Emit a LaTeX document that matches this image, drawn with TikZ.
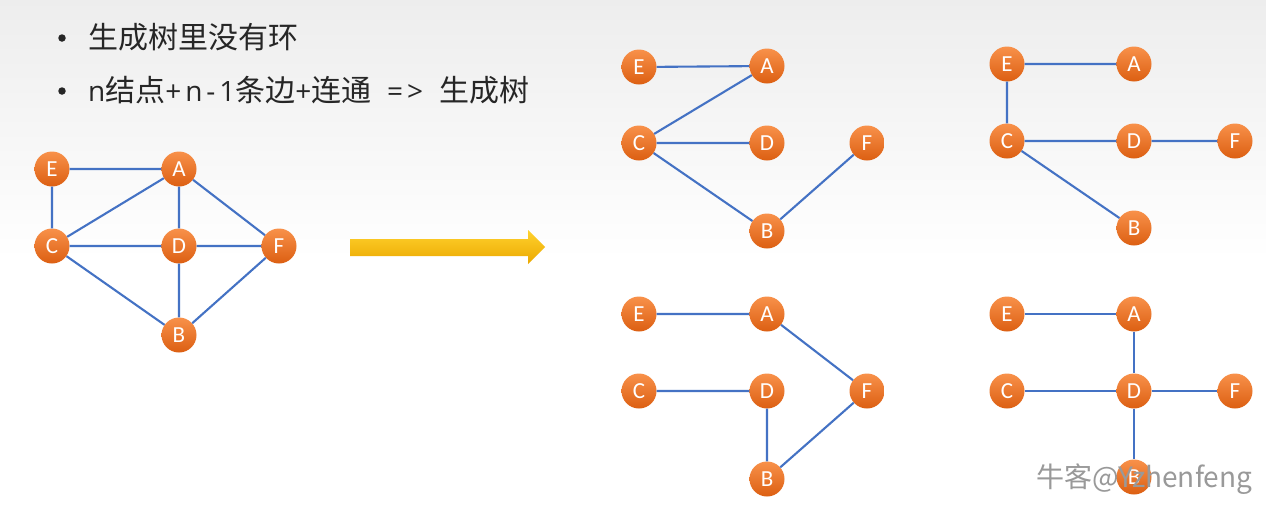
\documentclass[tikz,border=0pt]{standalone}
\usepackage{fontspec}
\setmainfont{Carlito}
\newfontfamily\cjk{Noto Sans CJK SC}
\newfontfamily\lat[LetterSpace=14]{Open Sans}
\newcommand{\lt}[1]{{\lat\fontsize{28}{28}\selectfont #1}}
\definecolor{edgeblue}{HTML}{4472C4}
\definecolor{orgtop}{HTML}{F8914A}
\definecolor{orgbot}{HTML}{DC5F12}
\definecolor{arrtop}{HTML}{FFD22E}
\definecolor{arrbot}{HTML}{EBA800}
\tikzset{
  vtx/.style={circle, minimum size=35pt, inner sep=0pt, top color=orgtop, bottom color=orgbot,
    text=white, font=\fontsize{23}{23}\selectfont},
  edg/.style={draw=edgeblue, line width=2.1pt},
  bul/.style={anchor=west, font=\cjk\fontsize{30}{30}\selectfont, text=black!85, inner sep=0pt},
  dot/.style={circle, fill=black!85, minimum size=7.5pt, inner sep=0pt}
}
\begin{document}
\begin{tikzpicture}[x=1pt,y=-1pt]
\useasboundingbox (0,0) rectangle (1266,509);
\shade[top color=black!7, bottom color=white] (0,0) rectangle (1266,260);
\fill[white] (0,260) rectangle (1266,509);
% text
\node[dot] (b1) at (62,38) {};
\node[bul] (t1) at (88,37) {生成树里没有环};
\node[dot] (b2) at (62,91) {};
\node[bul] (t2) at (88,90) {\lt{n}结点\lt{+n-1}条边\lt{+}连通\lt{\ \,=>\ \,}生成树};
% arrow
\shade[top color=arrtop, bottom color=arrbot] (350,239) -- (528,239) -- (528,230) -- (545,247) -- (528,264) -- (528,256) -- (350,256) -- cycle;
% graph 0
\node[vtx] (aE) at (52,169) {E};
\node[vtx] (aA) at (179,169) {A};
\node[vtx] (aC) at (52,246) {C};
\node[vtx] (aD) at (179,246) {D};
\node[vtx] (aF) at (279,246) {F};
\node[vtx] (aB) at (179,335) {B};
% graph 1
\node[vtx] (bE) at (639,67) {E};
\node[vtx] (bA) at (767,66) {A};
\node[vtx] (bC) at (639,143) {C};
\node[vtx] (bD) at (767,143) {D};
\node[vtx] (bF) at (867,143) {F};
\node[vtx] (bB) at (767,231) {B};
% graph 2
\node[vtx] (cE) at (1007,64) {E};
\node[vtx] (cA) at (1134,64) {A};
\node[vtx] (cC) at (1007,141) {C};
\node[vtx] (cD) at (1134,141) {D};
\node[vtx] (cF) at (1235,141) {F};
\node[vtx] (cB) at (1134,228) {B};
% graph 3
\node[vtx] (dE) at (639,314) {E};
\node[vtx] (dA) at (767,314) {A};
\node[vtx] (dC) at (639,391) {C};
\node[vtx] (dD) at (767,391) {D};
\node[vtx] (dF) at (867,391) {F};
\node[vtx] (dB) at (767,479) {B};
% graph 4
\node[vtx] (eE) at (1007,314) {E};
\node[vtx] (eA) at (1134,314) {A};
\node[vtx] (eC) at (1007,391) {C};
\node[vtx] (eD) at (1134,391) {D};
\node[vtx] (eF) at (1235,391) {F};
\node[vtx] (eB) at (1134,477) {B};
% edges
\draw[edg] (aE) -- (aA) (aE) -- (aC) (aA) -- (aC) (aA) -- (aD) (aA) -- (aF)
  (aC) -- (aD) (aD) -- (aF) (aC) -- (aB) (aD) -- (aB) (aF) -- (aB);
\draw[edg] (bE) -- (bA) (bA) -- (bC) (bC) -- (bD) (bC) -- (bB) (bB) -- (bF);
\draw[edg] (cE) -- (cA) (cE) -- (cC) (cC) -- (cD) (cD) -- (cF) (cC) -- (cB);
\draw[edg] (dE) -- (dA) (dA) -- (dF) (dC) -- (dD) (dD) -- (dB) (dB) -- (dF);
\draw[edg] (eE) -- (eA) (eA) -- (eD) (eC) -- (eD) (eD) -- (eF) (eD) -- (eB);
% watermark
\node[anchor=west, inner sep=0pt, text=black!40, font=\cjk\fontsize{28}{28}\selectfont] (wm) at (1036,479) {牛客@Yzhenfeng};
\end{tikzpicture}
\end{document}
